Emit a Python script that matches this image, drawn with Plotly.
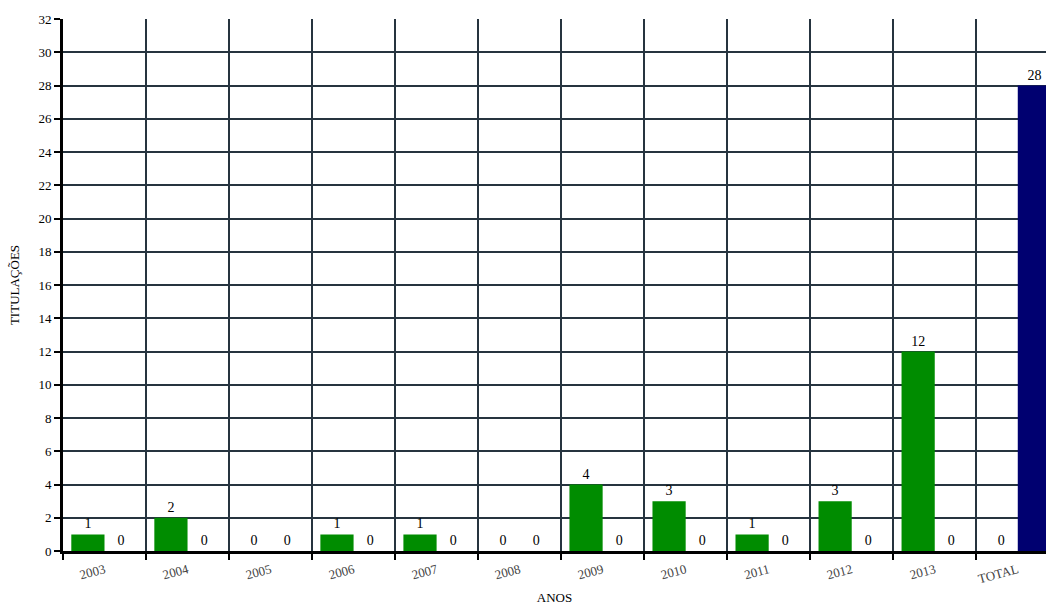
import plotly.graph_objects as go

# Categories and series values
categorias = ["2003", "2004", "2005", "2006", "2007", "2008", "2009",
              "2010", "2011", "2012", "2013", "TOTAL"]
titulacoes_ano = [1, 2, 0, 1, 1, 0, 4, 3, 1, 3, 12, 0]
titulacoes_total = [0, 0, 0, 0, 0, 0, 0, 0, 0, 0, 0, 28]
y_ticks = list(range(0, 33, 2))

posicoes = list(range(len(categorias)))
limites = [p - 0.5 for p in posicoes] + [len(categorias) - 0.5]

SERIF = "Liberation Serif, Times New Roman, serif"
GRID = "#26343f"

fig = go.Figure()

fig.add_trace(go.Bar(
    x=posicoes, y=titulacoes_ano,
    marker=dict(color="#008c00", line=dict(width=0)),
    text=[str(v) for v in titulacoes_ano], textposition="outside",
    textfont=dict(family=SERIF, size=14, color="#000000"),
    cliponaxis=False, showlegend=False,
))
fig.add_trace(go.Bar(
    x=posicoes, y=titulacoes_total,
    marker=dict(color="#000070", line=dict(width=0)),
    text=[str(v) for v in titulacoes_total], textposition="outside",
    textfont=dict(family=SERIF, size=14, color="#000000"),
    cliponaxis=False, showlegend=False,
))
# invisible carrier for the category label axis
fig.add_trace(go.Scatter(
    x=posicoes, y=[0] * len(posicoes), mode="markers",
    marker=dict(opacity=0), hoverinfo="skip", showlegend=False, xaxis="x2",
))

x_range = [-0.5, 11.34]

fig.update_layout(
    width=1046, height=606,
    margin=dict(l=63, r=0, t=19, b=55),
    paper_bgcolor="white", plot_bgcolor="white",
    barmode="group", bargap=0.2, bargroupgap=0,
    font=dict(family=SERIF, color="#000000"),
    # grid lines and ticks at category boundaries
    xaxis=dict(
        range=x_range, tickvals=limites, ticktext=["" for _ in limites],
        showgrid=True, gridcolor=GRID, gridwidth=1.5,
        ticks="outside", ticklen=6, tickwidth=2, tickcolor="#000000",
        showline=True, linecolor="#000000", linewidth=3,
        zeroline=False, fixedrange=True,
        title=dict(text="ANOS", font=dict(family=SERIF, size=13), standoff=32),
    ),
    # category labels at bar-group centres
    xaxis2=dict(
        overlaying="x", side="bottom", range=x_range,
        tickvals=posicoes, ticktext=categorias, tickangle=-15,
        tickfont=dict(family=SERIF, size=13, color="#444444"),
        showgrid=False, showline=False, zeroline=False, ticks="",
        ticklabelstandoff=8,
    ),
    yaxis=dict(
        range=[0, 32], tickvals=y_ticks,
        tickfont=dict(family=SERIF, size=13, color="#000000"),
        showgrid=True, gridcolor=GRID, gridwidth=1.5,
        ticks="outside", ticklen=6, tickwidth=1.5, tickcolor="#000000",
        showline=True, linecolor="#000000", linewidth=3,
        zeroline=False,
        title=dict(text="TITULAÇÕES", font=dict(family=SERIF, size=13), standoff=16),
    ),
)

fig.write_html("out.html")
